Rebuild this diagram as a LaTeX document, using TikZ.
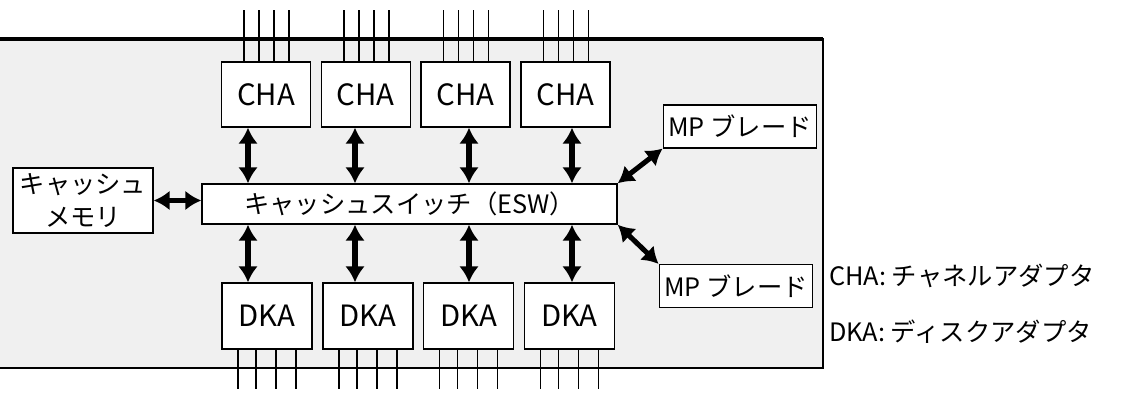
\documentclass[tikz,border=0pt]{standalone}
\usepackage{fontspec}
\setmainfont{Noto Sans CJK JP}
\usetikzlibrary{positioning,arrows.meta}

\begin{document}
\begin{tikzpicture}[
  x=0.75pt, y=-0.75pt,
  node distance=7pt,
  box/.style={draw, line width=1.1pt, fill=white, inner sep=0pt, align=center,
              font=\fontsize{19}{25}\selectfont},
  chabox/.style={box, minimum width=66.75pt, minimum height=48.75pt,
                 font=\fontsize{22}{25}\selectfont},
  dkabox/.style={chabox, minimum width=67.5pt, minimum height=49.5pt},
  mpbox/.style={box, minimum width=115pt, minimum height=32pt},
  dbl/.style={{Latex[length=12pt,width=15pt]}-{Latex[length=12pt,width=15pt]},
              line width=3.8pt},
  bus/.style={line width=1.1pt},
  key/.style={anchor=west, inner sep=0pt, font=\fontsize{19}{25}\selectfont}
]
\useasboundingbox (0,0) rectangle (1125,418);
% controller frame
\draw[fill=black!6, line width=1.3pt] (-10,39) rectangle (823,368);
\draw[line width=2.4pt] (-10,39) -- (823,39);

\node[chabox] (cha1) at (266,94.5) {CHA};
\node[chabox, right=of cha1] (cha2) {CHA};
\node[chabox, right=of cha2] (cha3) {CHA};
\node[chabox, right=of cha3] (cha4) {CHA};
\node[box, minimum width=311.25pt, minimum height=30pt] (esw) at (409.5,204)
   {キャッシュスイッチ（ESW）};
\node[dkabox] (dka1) at (267,316) {DKA};
\node[dkabox, right=of dka1] (dka2) {DKA};
\node[dkabox, right=of dka2] (dka3) {DKA};
\node[dkabox, right=of dka3] (dka4) {DKA};
\node[box, minimum width=105pt, minimum height=48.75pt] (mem) at (83,200.5)
   {キャッシュ\\メモリ};
\node[mpbox] (mp1) at (740,126.5) {MP ブレード};
\node[mpbox] (mp2) at (736,286) {MP ブレード};

% host and disk ports
\foreach \n in {cha1,cha2,cha3,cha4}
  \foreach \dx in {-22,-7,8,23}
    \draw[bus] ([xshift=\dx*0.75pt]\n.north) -- ++(0,-51);
\foreach \n in {dka1,dka2,dka3,dka4}
  \foreach \dx in {-29,-11,9,29}
    \draw[bus] ([xshift=\dx*0.75pt]\n.south) -- ++(0,39);

\coordinate (a1) at (248,0);
\coordinate (a2) at (355,0);
\coordinate (a3) at (469,0);
\coordinate (a4) at (572,0);

\draw[dbl] (cha1.south -| a1) -- (esw.north -| a1);
\draw[dbl] (cha2.south -| a2) -- (esw.north -| a2);
\draw[dbl] (cha3.south -| a3) -- (esw.north -| a3);
\draw[dbl] (cha4.south -| a4) -- (esw.north -| a4);
\draw[dbl] (esw.south -| a1) -- (dka1.north -| a1);
\draw[dbl] (esw.south -| a2) -- (dka2.north -| a2);
\draw[dbl] (esw.south -| a3) -- (dka3.north -| a3);
\draw[dbl] (esw.south -| a4) -- (dka4.north -| a4);
\draw[dbl] (mem.east) -- (mem.east -| esw.west);
\draw[dbl] (esw.north east) -- (mp1.south west);
\draw[dbl] (esw.south east) -- (mp2.north west);

\node[key] (keycha) at (829,276) {CHA: チャネルアダプタ};
\node[key] (keydka) at (829,332) {DKA: ディスクアダプタ};
\end{tikzpicture}
\end{document}
